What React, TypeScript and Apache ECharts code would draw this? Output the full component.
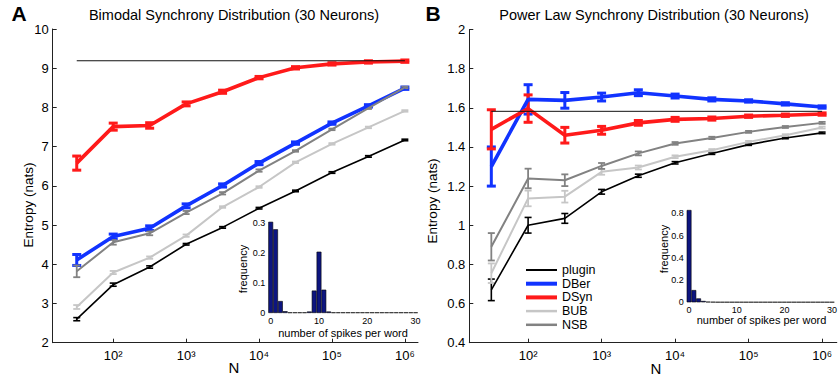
import React, { useEffect, useRef } from 'react';
import * as echarts from 'echarts';

// ---------- data ----------
const N = [31.6, 100, 316, 1000, 3162, 10000, 31623, 100000, 316228, 1000000];
const X_TICKS = [100, 1000, 10000, 100000, 1000000];

// Panel A: bimodal
const A_PLUGIN = [2.6, 3.48, 3.93, 4.51, 4.94, 5.43, 5.87, 6.34, 6.75, 7.17];
const A_PLUGIN_ERR = [0.04, 0.04, 0.03, 0.02, 0.02, 0.02, 0.02, 0.02, 0.02, 0.02];
const A_DBER = [4.11, 4.71, 4.92, 5.49, 6.01, 6.58, 7.09, 7.6, 8.04, 8.49];
const A_DBER_ERR = [0.14, 0.06, 0.06, 0.05, 0.04, 0.04, 0.03, 0.03, 0.03, 0.03];
const A_DSYN = [6.58, 7.51, 7.54, 8.09, 8.4, 8.76, 9.01, 9.11, 9.16, 9.18];
const A_DSYN_ERR = [0.18, 0.09, 0.07, 0.05, 0.04, 0.03, 0.03, 0.03, 0.03, 0.03];
const A_BUB = [2.91, 3.79, 4.17, 4.73, 5.46, 5.97, 6.6, 7.07, 7.49, 7.91];
const A_BUB_ERR = [0.05, 0.04, 0.03, 0.03, 0.02, 0.02, 0.02, 0.02, 0.02, 0.02];
const A_NSB = [3.82, 4.56, 4.79, 5.32, 5.81, 6.39, 6.89, 7.44, 7.98, 8.51];
const A_NSB_ERR = [0.15, 0.06, 0.05, 0.04, 0.03, 0.03, 0.02, 0.02, 0.02, 0.02];
const A_TRUE = 9.19;

// Panel B: power law
const B_PLUGIN = [0.67, 1.0, 1.035, 1.171, 1.253, 1.319, 1.367, 1.412, 1.446, 1.472];
const B_PLUGIN_ERR = [0.055, 0.04, 0.025, 0.012, 0.008, 0.006, 0.005, 0.004, 0.004, 0.004];
const B_DBER = [1.3, 1.643, 1.638, 1.655, 1.677, 1.66, 1.643, 1.635, 1.62, 1.604];
const B_DBER_ERR = [0.1, 0.075, 0.04, 0.02, 0.015, 0.01, 0.008, 0.006, 0.006, 0.006];
const B_DSYN = [1.49, 1.596, 1.46, 1.485, 1.523, 1.541, 1.545, 1.557, 1.562, 1.568];
const B_DSYN_ERR = [0.1, 0.07, 0.04, 0.02, 0.012, 0.01, 0.008, 0.006, 0.006, 0.006];
const B_BUB = [0.755, 1.137, 1.146, 1.273, 1.295, 1.35, 1.383, 1.426, 1.46, 1.499];
const B_BUB_ERR = [0.05, 0.04, 0.03, 0.015, 0.01, 0.007, 0.006, 0.005, 0.005, 0.005];
const B_NSB = [0.89, 1.239, 1.23, 1.303, 1.367, 1.418, 1.446, 1.477, 1.502, 1.523];
const B_NSB_ERR = [0.07, 0.05, 0.03, 0.015, 0.01, 0.007, 0.006, 0.005, 0.005, 0.005];
const B_TRUE = 1.582;

// Insets: spike-count histograms
const BINS = Array.from({ length: 31 }, (_, i) => String(i));
const HIST_A = [0.305, 0.28, 0.04, 0.006, 0.002, 0.002, 0.002, 0.002, 0.005, 0.075, 0.205, 0.078, 0.005,
  0.002, 0.002, 0.002, 0.002, 0.002, 0.002, 0.002, 0.002, 0.002, 0.002, 0.002, 0.002, 0.002, 0.002, 0.002, 0.002, 0.002, 0.002];
const HIST_B = [0.83, 0.11, 0.035, 0.012, 0.005, 0.003, 0.002, 0.002, 0.002, 0.002, 0.002, 0.002, 0.002,
  0.002, 0.002, 0.002, 0.002, 0.002, 0.002, 0.002, 0.002, 0.002, 0.002, 0.002, 0.002, 0.002, 0.002, 0.002, 0.002, 0.002, 0.002];

const LEGEND = ['plugin', 'DBer', 'DSyn', 'BUB', 'NSB'];

// ---------- styles ----------
const FONT = '"Liberation Sans", Arial, Helvetica, sans-serif';
const STYLE: Record<string, { color: string; width: number; cap: number; ew: number }> = {
  plugin: { color: '#000000', width: 1.6, cap: 3.5, ew: 1.6 },
  DBer: { color: '#1133ff', width: 3.6, cap: 4.5, ew: 3 },
  DSyn: { color: '#ff1a1a', width: 3.6, cap: 4.5, ew: 3 },
  BUB: { color: '#c6c6c6', width: 2, cap: 3.5, ew: 1.8 },
  NSB: { color: '#828282', width: 2, cap: 3.5, ew: 1.8 },
};
const LEGEND_WIDTH: Record<string, number> = { plugin: 2, DBer: 4, DSyn: 4, BUB: 2.5, NSB: 2.5 };

const SUP: Record<string, string> = { '0': '⁰', '1': '¹', '2': '²', '3': '³', '4': '⁴', '5': '⁵', '6': '⁶', '7': '⁷', '8': '⁸', '9': '⁹' };
function powLabel(v: number): string {
  const e = Math.log10(v);
  const r = Math.round(e);
  if (Math.abs(e - r) > 1e-6) return '';
  return '10' + String(r).split('').map((c) => SUP[c] || c).join('');
}

function lineSeries(name: string, idx: number, ys: number[]) {
  const s = STYLE[name];
  return {
    type: 'line', name, xAxisIndex: idx, yAxisIndex: idx,
    data: N.map((x, i) => [x, ys[i]]),
    showSymbol: false, symbol: 'none',
    lineStyle: { color: s.color, width: s.width },
    itemStyle: { color: s.color },
    z: 3,
  };
}

function errSeries(name: string, idx: number, ys: number[], errs: number[]) {
  const s = STYLE[name];
  return {
    type: 'custom', name: name + ' err', xAxisIndex: idx, yAxisIndex: idx,
    data: N.map((x, i) => [x, ys[i], errs[i]]),
    encode: { x: 0, y: 1 },
    clip: false,
    z: 3,
    renderItem: (_p: any, api: any) => {
      const x = api.value(0), y = api.value(1), e = api.value(2);
      const t = api.coord([x, y + e]);
      const b = api.coord([x, y - e]);
      const st = { stroke: s.color, lineWidth: s.ew };
      return {
        type: 'group',
        children: [
          { type: 'line', shape: { x1: t[0], y1: t[1], x2: b[0], y2: b[1] }, style: st },
          { type: 'line', shape: { x1: t[0] - s.cap, y1: t[1], x2: t[0] + s.cap, y2: t[1] }, style: st },
          { type: 'line', shape: { x1: b[0] - s.cap, y1: b[1], x2: b[0] + s.cap, y2: b[1] }, style: st },
        ],
      };
    },
  };
}

function panelSeries(idx: number, sets: number[][], errs: number[][], truth: number) {
  const out: any[] = [];
  LEGEND.forEach((name, i) => {
    out.push(lineSeries(name, idx, sets[i]));
    out.push(errSeries(name, idx, sets[i], errs[i]));
  });
  out.push({
    type: 'line', name: 'true ' + idx, xAxisIndex: idx, yAxisIndex: idx,
    data: [[N[0], truth], [N[N.length - 1], truth]],
    showSymbol: false, symbol: 'none',
    lineStyle: { color: '#111', width: 1 }, z: 4,
  });
  return out;
}

function logX(grid: number, min: number, max: number) {
  return {
    type: 'log', logBase: 10, gridIndex: grid, min, max,
    axisLine: { show: true, lineStyle: { color: '#222', width: 1 } },
    axisTick: { show: true, inside: true, length: 4, customValues: X_TICKS, lineStyle: { color: '#222' } },
    axisLabel: { customValues: X_TICKS, formatter: powLabel, fontSize: 13, color: '#000', margin: 6, fontFamily: FONT },
    splitLine: { show: false }, minorTick: { show: false },
  };
}

function valY(grid: number, min: number, max: number, interval: number) {
  return {
    type: 'value', gridIndex: grid, min, max, interval,
    axisLine: { show: true, lineStyle: { color: '#222', width: 1 } },
    axisTick: { show: true, inside: true, length: 4, lineStyle: { color: '#222' } },
    axisLabel: { fontSize: 13, color: '#000', margin: 4, fontFamily: FONT },
    splitLine: { show: false },
  };
}

function insetX(grid: number) {
  return {
    type: 'category', gridIndex: grid, data: BINS,
    axisLine: { show: false }, axisTick: { show: false },
    axisLabel: { interval: 9, fontSize: 9, color: '#000', margin: 3, fontFamily: FONT },
    splitLine: { show: false },
  };
}

function insetY(grid: number, max: number, interval: number) {
  return {
    type: 'value', gridIndex: grid, min: 0, max, interval,
    axisLine: { show: false }, axisTick: { show: false },
    axisLabel: { fontSize: 9, color: '#000', margin: 3, showMaxLabel: false, fontFamily: FONT },
    splitLine: { show: false },
  };
}

function histSeries(idx: number, data: number[]) {
  return {
    type: 'bar', xAxisIndex: idx, yAxisIndex: idx, data,
    barCategoryGap: '0%',
    itemStyle: { color: '#0d1580', borderColor: '#000', borderWidth: 0.6 },
    z: 5,
  };
}

function txt(text: string, x: number, y: number, size: number, opts: any = {}) {
  return {
    type: 'text', x, y, rotation: opts.rotation || 0, z: 10,
    style: {
      text, fill: '#000', fontSize: size, fontFamily: FONT, fontWeight: opts.weight || 'normal',
      align: opts.align || 'center', verticalAlign: 'middle',
    },
  };
}

const LEG_X0 = 526, LEG_X1 = 557, LEG_Y0 = 270, LEG_DY = 13.7;

export default function App() {
  const ref = useRef<HTMLDivElement>(null);
  useEffect(() => {
    document.body.style.margin = '0';
    const chart = echarts.init(ref.current!, null, { renderer: 'svg' });
    const graphic: any[] = [
      txt('A', 19, 13, 21, { weight: 'bold' }),
      txt('B', 433, 13, 21, { weight: 'bold' }),
      txt('Bimodal Synchrony Distribution (30 Neurons)', 234, 15, 14.5),
      txt('Power Law Synchrony Distribution (30 Neurons)', 654, 15, 14.5),
      txt('Entropy (nats)', 28, 205, 13.5, { rotation: Math.PI / 2 }),
      txt('Entropy (nats)', 432, 201, 13.5, { rotation: Math.PI / 2 }),
      txt('N', 234, 367, 15),
      txt('N', 656, 368, 15),
      txt('number of spikes per word', 343, 332.5, 11),
      txt('number of spikes per word', 761.5, 319.5, 11),
      txt('frequency', 243, 269, 11, { rotation: Math.PI / 2 }),
      txt('frequency', 664, 249, 11, { rotation: Math.PI / 2 }),
    ];
    LEGEND.forEach((name, i) => {
      const y = LEG_Y0 + i * LEG_DY;
      graphic.push({
        type: 'line', z: 10,
        shape: { x1: LEG_X0, y1: y, x2: LEG_X1, y2: y },
        style: { stroke: STYLE[name].color, lineWidth: LEGEND_WIDTH[name] },
      });
      graphic.push(txt(name, 562, y, 12.5, { align: 'left' }));
    });

    chart.setOption({
      animation: false,
      backgroundColor: '#fff',
      textStyle: { fontFamily: FONT },
      grid: [
        { left: 52.7, top: 29, width: 365.3, height: 313.7 },
        { left: 469.3, top: 29.5, width: 367.5, height: 313.2 },
        { left: 268.3, top: 220.3, width: 149.7, height: 92.7 },
        { left: 686.7, top: 208.9, width: 150, height: 93.4 },
      ],
      xAxis: [
        logX(0, Math.pow(10, 1.17), Math.pow(10, 6.18)),
        logX(1, Math.pow(10, 1.2), Math.pow(10, 6.2)),
        insetX(2),
        insetX(3),
      ],
      yAxis: [
        valY(0, 2, 10, 1),
        valY(1, 0.4, 2, 0.2),
        insetY(2, 0.31, 0.1),
        insetY(3, 0.84, 0.2),
      ],
      series: [
        ...panelSeries(0, [A_PLUGIN, A_DBER, A_DSYN, A_BUB, A_NSB], [A_PLUGIN_ERR, A_DBER_ERR, A_DSYN_ERR, A_BUB_ERR, A_NSB_ERR], A_TRUE),
        ...panelSeries(1, [B_PLUGIN, B_DBER, B_DSYN, B_BUB, B_NSB], [B_PLUGIN_ERR, B_DBER_ERR, B_DSYN_ERR, B_BUB_ERR, B_NSB_ERR], B_TRUE),
        histSeries(2, HIST_A),
        histSeries(3, HIST_B),
      ],
      graphic,
    });
    return () => chart.dispose();
  }, []);
  return <div ref={ref} style={{ position: 'fixed', left: 0, top: 0, width: 840, height: 381 }} />;
}
